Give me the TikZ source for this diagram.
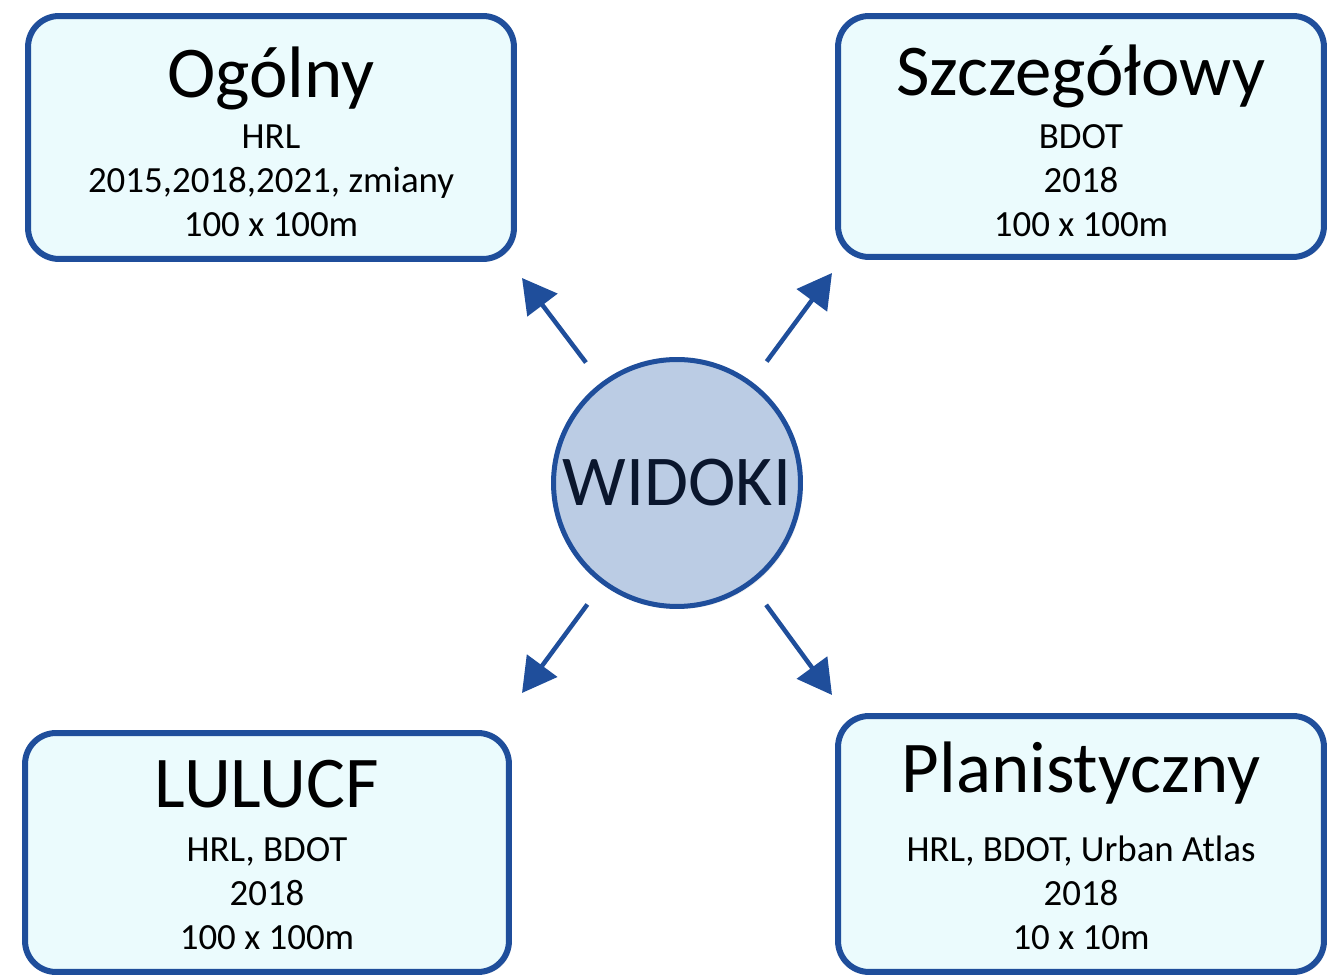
\documentclass[tikz,border=0pt]{standalone}
\usepackage{fontspec}
\setmainfont{Carlito}
\usepackage{tikz}
\usetikzlibrary{arrows.meta, shadows}

\definecolor{widblue}{RGB}{31,78,155}
\definecolor{boxfill}{RGB}{235,251,253}
\definecolor{ringfill}{RGB}{187,204,228}
\definecolor{ringtext}{RGB}{10,22,45}

\begin{document}
\begin{tikzpicture}[x=0.02cm, y=0.02cm,
    viewbox/.style={draw=widblue, line width=.12cm, fill=boxfill, rounded corners=.62cm,
        minimum width=9.72cm, drop shadow={shadow xshift=.05cm, shadow yshift=-.05cm, opacity=.15}},
    title/.style={anchor=base, inner sep=0, font=\fontsize{41.5}{48}\selectfont},
    details/.style={anchor=south, inner sep=0, align=center, font=\fontsize{21}{25}\selectfont},
    arrow/.style={-{Triangle[length=.68cm, width=.74cm]}, line width=.09cm, draw=widblue, shorten <=.5cm}]
    \useasboundingbox (0,0) rectangle (1332,980);

    \node[viewbox, minimum height=4.86cm]   (ogolny)   at (271,842.5)  {};
    \node[viewbox, minimum height=4.82cm]   (szczeg)   at (1081,843.5) {};
    \node[viewbox, minimum height=4.78cm, minimum width=9.68cm] (lulucf) at (267,127.5) {};
    \node[viewbox, minimum height=5.12cm]   (planist)  at (1081,136)   {};

    \node[title] (ogolnyT)  at (271,882)  {Ogólny};
    \node[title] (szczegT)  at (1081,884) {Szczegółowy};
    \node[title] (lulucfT)  at (267,172)  {LULUCF};
    \node[title] (planistT) at (1081,187) {Planistyczny};

    \node[details] (ogolnyD)  at (271,743)  {HRL\\2015,2018,2021, zmiany\\100 x 100m};
    \node[details] (szczegD)  at (1081,743) {BDOT\\2018\\100 x 100m};
    \node[details] (lulucfD)  at (267,30)   {HRL, BDOT\\2018\\100 x 100m};
    \node[details] (planistD) at (1081,30)  {HRL, BDOT, Urban Atlas\\2018\\10 x 10m};

    \node[circle, draw=widblue, line width=.1cm, fill=ringfill, minimum size=4.94cm, inner sep=0,
        text=ringtext, font=\fontsize{40.7}{48}\selectfont,
        drop shadow={shadow xshift=.05cm, shadow yshift=-.05cm, opacity=.12}] (widoki) at (677,497) {WIDOKI};

    \coordinate (tl) at (522,702);
    \coordinate (tr) at (832,707);
    \coordinate (bl) at (522,287);
    \coordinate (br) at (832,285);

    \path
        (widoki)
            edge [arrow] (tl)
            edge [arrow] (tr)
            edge [arrow] (bl)
            edge [arrow] (br);
\end{tikzpicture}
\end{document}
